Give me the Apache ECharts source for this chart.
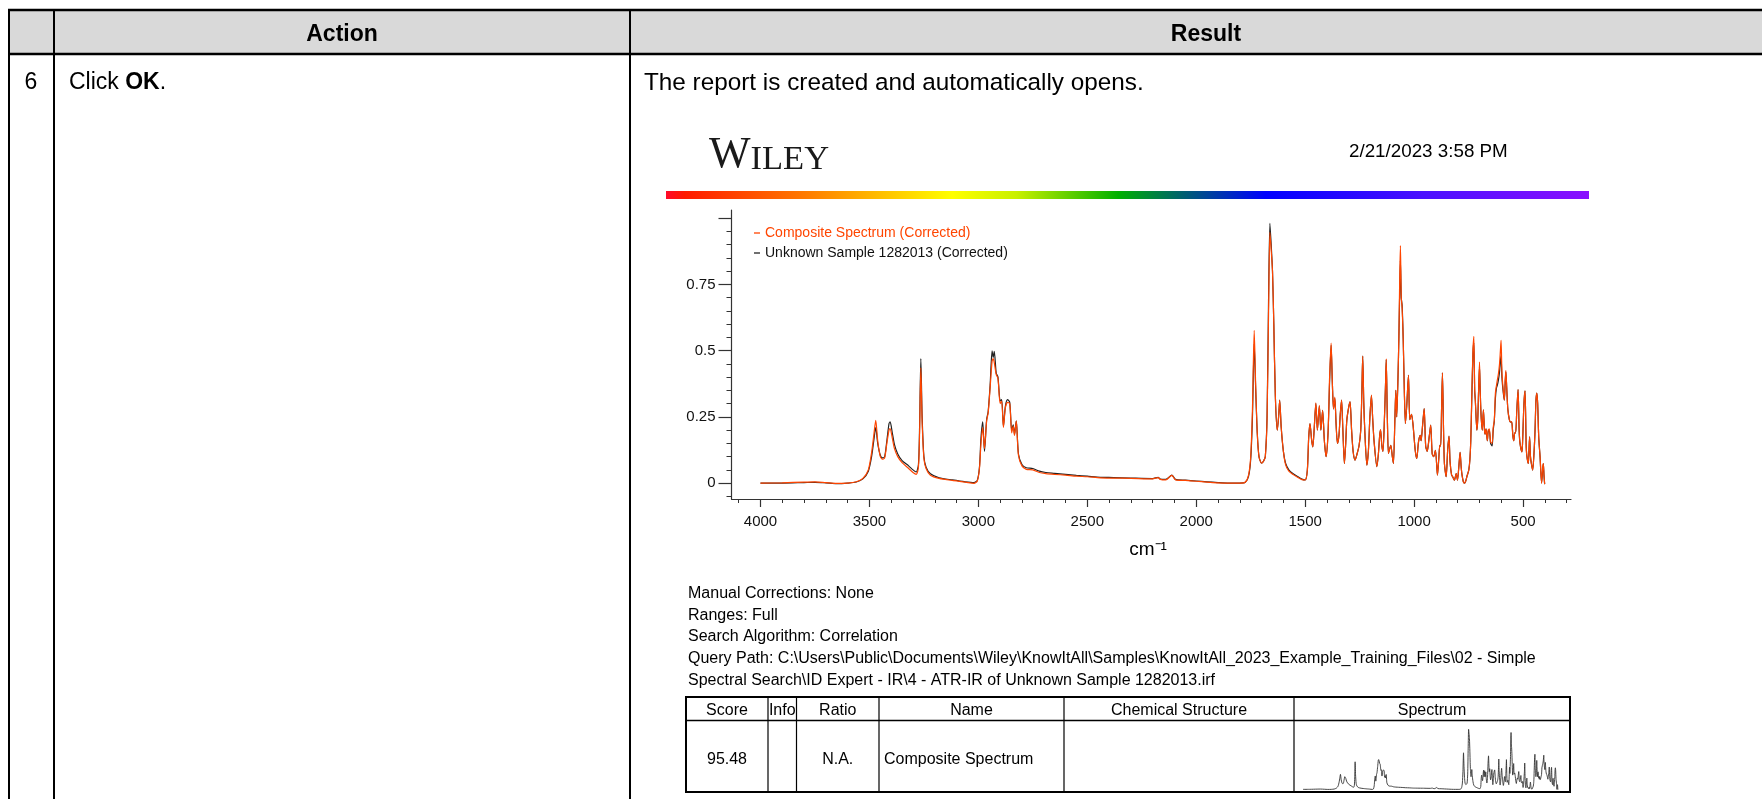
<!DOCTYPE html>
<html>
<head>
<meta charset="utf-8">
<script src="https://cdn.jsdelivr.net/npm/echarts@6/dist/echarts.min.js"></script>
<style>
html,body{margin:0;padding:0;background:#fff;}
#main{width:1762px;height:799px;}
</style>
</head>
<body>
<div id="main"></div>
<script>
// ---------- DATA ----------
const wavenumbers = [4000,3900,3800,3750,3700,3650,3600,3560,3530,3505,3490,3480,3471,3462,3450,3440,3430,3420,3410,3405,3395,3385,3370,3350,3320,3300,3285,3275,3270,3264,3258,3250,3240,3220,3180,3120,3060,3020,3005,2995,2988,2980,2972,2962,2955,2946,2937,2932,2927,2918,2910,2900,2893,2885,2876,2866,2856,2847,2840,2834,2826,2816,2800,2780,2750,2720,2690,2650,2600,2550,2500,2440,2380,2300,2200,2175,2165,2140,2112,2095,2050,2000,1950,1900,1850,1800,1775,1760,1750,1742,1734,1727,1720,1712,1700,1690,1683,1675,1668,1662,1656,1650,1644,1637,1628,1622,1617,1610,1600,1590,1575,1555,1535,1515,1500,1490,1484,1478,1470,1465,1459,1451,1444,1435,1428,1420,1412,1404,1395,1388,1381,1375,1370,1364,1358,1352,1345,1339,1333,1327,1320,1314,1309,1300,1294,1287,1280,1271,1262,1253,1245,1240,1236,1231,1226,1217,1210,1203,1196,1190,1184,1171,1164,1158,1154,1148,1143,1136,1131,1128,1123,1118,1112,1107,1100,1095,1088,1084,1080,1074,1070,1066,1063,1059,1055,1050,1045,1040,1034,1026,1020,1012,1005,995,988,980,972,968,961,954,947,940,936,930,924,917,910,902,893,887,882,878,874,870,865,861,853,846,840,835,828,823,815,807,801,795,789,784,780,774,769,763,758,749,744,740,735,730,726,722,719,712,708,704,700,697,693,687,682,677,674,670,664,660,655,649,642,637,632,627,622,618,613,608,604,601,597,592,586,582,579,575,570,563,557,552,547,543,538,534,529,523,518,514,505,502,496,491,486,483,476,473,470,466,462,456,450,445,441,437,433,428,422,415,410,407,404,401];

const unknownSample = [0,0,0.002,0.003,0.001,-0.002,0,0.004,0.016,0.045,0.10,0.16,0.21,0.15,0.105,0.095,0.10,0.16,0.225,0.231,0.19,0.145,0.11,0.085,0.065,0.05,0.042,0.07,0.2,0.47,0.25,0.10,0.06,0.035,0.02,0.012,0.005,0.002,0.01,0.06,0.17,0.231,0.12,0.24,0.27,0.37,0.499,0.475,0.497,0.415,0.40,0.31,0.315,0.215,0.29,0.315,0.305,0.20,0.22,0.185,0.235,0.11,0.07,0.058,0.055,0.045,0.04,0.037,0.033,0.029,0.026,0.022,0.021,0.019,0.017,0.022,0.015,0.014,0.03,0.014,0.011,0.008,0.005,0.002,0,0,0.003,0.025,0.09,0.25,0.526,0.35,0.19,0.1,0.075,0.085,0.1,0.25,0.7,0.981,0.9,0.8,0.6,0.33,0.2,0.25,0.313,0.21,0.12,0.075,0.05,0.035,0.025,0.015,0.012,0.05,0.17,0.225,0.16,0.137,0.2,0.30,0.2,0.29,0.2,0.275,0.16,0.10,0.19,0.38,0.52,0.37,0.28,0.32,0.22,0.15,0.18,0.26,0.313,0.2,0.074,0.15,0.237,0.288,0.307,0.2,0.12,0.087,0.11,0.14,0.2,0.34,0.479,0.3,0.19,0.068,0.12,0.25,0.33,0.24,0.16,0.062,0.11,0.18,0.2,0.14,0.12,0.25,0.38,0.465,0.25,0.112,0.13,0.143,0.1,0.074,0.25,0.35,0.25,0.4,0.55,0.73,0.84,0.7,0.67,0.54,0.35,0.225,0.29,0.407,0.24,0.26,0.22,0.124,0.093,0.155,0.18,0.16,0.22,0.281,0.14,0.12,0.137,0.18,0.219,0.11,0.1,0.124,0.03,0.09,0.143,0.14,0.28,0.416,0.2,0.074,0.024,0.125,0.177,0.08,0.03,0.024,0.011,0.036,0.011,0.06,0.116,0.06,0.03,0.005,0,0.008,0.024,0.05,0.09,0.16,0.33,0.49,0.53,0.35,0.31,0.2,0.24,0.35,0.44,0.36,0.26,0.2,0.277,0.2,0.185,0.205,0.16,0.195,0.2,0.15,0.14,0.2,0.235,0.32,0.36,0.37,0.39,0.42,0.46,0.48,0.4,0.35,0.313,0.38,0.42,0.36,0.28,0.24,0.23,0.23,0.18,0.16,0.19,0.19,0.27,0.353,0.2,0.15,0.118,0.16,0.3,0.348,0.15,0.105,0.074,0.12,0.175,0.1,0.074,0.049,0.11,0.2,0.31,0.34,0.3,0.17,0.1,0,0.05,0.074,0.03,-0.004];

const compositeSpectrum = [0,0.001,0.004,0.005,0.002,-0.001,0,0.005,0.018,0.05,0.115,0.18,0.237,0.16,0.10,0.09,0.095,0.15,0.20,0.206,0.17,0.13,0.10,0.077,0.055,0.04,0.033,0.06,0.18,0.435,0.23,0.095,0.055,0.03,0.018,0.01,0.004,-0.001,0.008,0.055,0.15,0.21,0.13,0.235,0.265,0.36,0.46,0.47,0.455,0.41,0.395,0.30,0.31,0.21,0.285,0.305,0.30,0.19,0.215,0.18,0.235,0.105,0.065,0.052,0.05,0.04,0.036,0.033,0.03,0.026,0.024,0.02,0.019,0.018,0.016,0.021,0.014,0.012,0.029,0.012,0.01,0.007,0.004,0.001,0,0,0.003,0.03,0.1,0.28,0.577,0.36,0.19,0.1,0.075,0.085,0.1,0.24,0.65,0.947,0.88,0.8,0.6,0.33,0.2,0.25,0.313,0.21,0.12,0.07,0.045,0.032,0.022,0.013,0.012,0.05,0.17,0.225,0.16,0.137,0.2,0.303,0.2,0.294,0.2,0.275,0.16,0.1,0.19,0.40,0.529,0.37,0.28,0.325,0.22,0.15,0.18,0.26,0.313,0.2,0.074,0.15,0.237,0.288,0.307,0.2,0.12,0.087,0.11,0.14,0.2,0.34,0.479,0.3,0.19,0.068,0.12,0.25,0.332,0.24,0.16,0.062,0.11,0.18,0.202,0.14,0.12,0.25,0.38,0.469,0.25,0.112,0.13,0.143,0.1,0.074,0.25,0.35,0.25,0.4,0.552,0.78,0.897,0.7,0.66,0.539,0.35,0.225,0.29,0.407,0.24,0.26,0.22,0.124,0.093,0.155,0.18,0.16,0.22,0.281,0.14,0.12,0.137,0.18,0.219,0.11,0.1,0.124,0.03,0.09,0.143,0.14,0.28,0.416,0.2,0.074,0.024,0.125,0.177,0.08,0.03,0.024,0.011,0.036,0.011,0.06,0.116,0.06,0.03,0.005,0,0.008,0.024,0.05,0.09,0.16,0.34,0.5,0.554,0.35,0.31,0.2,0.24,0.35,0.457,0.36,0.26,0.2,0.277,0.2,0.185,0.205,0.16,0.2,0.205,0.155,0.15,0.21,0.237,0.34,0.369,0.39,0.413,0.45,0.5,0.539,0.42,0.36,0.313,0.39,0.426,0.36,0.28,0.24,0.23,0.232,0.18,0.16,0.19,0.19,0.27,0.353,0.2,0.15,0.118,0.16,0.3,0.348,0.15,0.105,0.074,0.12,0.175,0.1,0.074,0.049,0.11,0.2,0.31,0.34,0.3,0.17,0.1,0,0.06,0.074,0.03,-0.004];

const seriesNames = ['Composite Spectrum (Corrected)', 'Unknown Sample 1282013 (Corrected)'];
const xTickLabels = [4000,3500,3000,2500,2000,1500,1000,500];
const yTickLabels = [0,0.25,0.5,0.75];
const yMajorTicks = [0,0.25,0.5,0.75,1];

const reportDate = '2/21/2023 3:58 PM';
const infoLines = [
  'Manual Corrections: None',
  'Ranges: Full',
  'Search Algorithm: Correlation',
  'Query Path: C:\\Users\\Public\\Documents\\Wiley\\KnowItAll\\Samples\\KnowItAll_2023_Example_Training_Files\\02 - Simple',
  'Spectral Search\\ID Expert - IR\\4 - ATR-IR of Unknown Sample 1282013.irf'
];
const hitHeaders = ['Score','Info','Ratio','Name','Chemical Structure','Spectrum'];
const hitRow = ['95.48','','N.A.','Composite Spectrum'];

// ---------- BUILD ----------
const xMinorTicks = [];
for (let v = 300; v <= 4100; v += 100) xMinorTicks.push(v);
const yMinorTicks = [];
for (let i = -1; i <= 20; i++) yMinorTicks.push(+(i * 0.05).toFixed(2));

const pairs = vals => wavenumbers.map((w, i) => [w, vals[i]]);

const FONT = '"Liberation Sans", Arial, sans-serif';
const AX = '#333';

function txt(x, y, text, size, opts) {
  opts = opts || {};
  return {
    type: 'text', x: x, y: y, silent: true,
    style: {
      text: text,
      font: (opts.bold ? 'bold ' : '') + size + 'px ' + (opts.family || FONT),
      fill: opts.color || '#000',
      align: opts.align || 'left', textAlign: opts.align || 'left',
      verticalAlign: 'middle', textVerticalAlign: 'middle'
    }
  };
}
function ln(x1, y1, x2, y2, w) {
  return { type: 'line', silent: true, shape: {x1, y1, x2, y2}, style: {stroke: '#000', lineWidth: w || 2} };
}

const graphics = [];
// outer document table
graphics.push({type: 'rect', silent: true, shape: {x: 8, y: 10, width: 1754, height: 44}, style: {fill: '#d9d9d9'}});
graphics.push(ln(8, 10, 1762, 10, 2.5));
graphics.push(ln(8, 54, 1762, 54, 2.5));
graphics.push(ln(9, 9, 9, 799, 2));
graphics.push(ln(54, 9, 54, 799, 2));
graphics.push(ln(630, 9, 630, 799, 2));
graphics.push(txt(342, 34.5, 'Action', 23, {bold: true, align: 'center'}));
graphics.push(txt(1206, 34.5, 'Result', 23, {bold: true, align: 'center'}));
graphics.push(txt(31, 83, '6', 23, {align: 'center'}));
graphics.push({
  type: 'text', x: 69, y: 83, silent: true,
  style: {
    text: '{r|Click }{b|OK}{r|.}',
    verticalAlign: 'middle', textVerticalAlign: 'middle',
    rich: {
      r: {fontSize: 23, fontFamily: FONT, fill: '#000', color: '#000'},
      b: {fontSize: 23, fontFamily: FONT, fontWeight: 'bold', fill: '#000', color: '#000'}
    }
  }
});
graphics.push(txt(644, 83, 'The report is created and automatically opens.', 24.3));

// report header
graphics.push({
  type: 'text', x: 709, y: 177, silent: true,
  style: {
    text: '{a|W}{b|ILEY}',
    verticalAlign: 'bottom', textVerticalAlign: 'bottom',
    rich: {
      a: {fontSize: 44, fontFamily: '"Liberation Serif", serif', fill: '#1a1a1a', color: '#1a1a1a', verticalAlign: 'bottom'},
      b: {fontSize: 34.5, fontFamily: '"Liberation Serif", serif', fill: '#1a1a1a', color: '#1a1a1a', verticalAlign: 'bottom'}
    }
  }
});
graphics.push(txt(1349, 152, reportDate, 18.8));
graphics.push({
  type: 'rect', silent: true, shape: {x: 666, y: 191, width: 923, height: 8},
  style: {fill: {type: 'linear', x: 0, y: 0, x2: 1, y2: 0, colorStops: [
    {offset: 0, color: '#ff0a2a'}, {offset: 0.02, color: '#ff1a00'}, {offset: 0.15, color: '#ff7a00'},
    {offset: 0.31, color: '#ffff00'}, {offset: 0.38, color: '#c8f000'}, {offset: 0.49, color: '#00b000'},
    {offset: 0.56, color: '#006070'}, {offset: 0.65, color: '#0000ff'}, {offset: 0.82, color: '#4a10ff'},
    {offset: 1, color: '#8a10ff'}]}}
});

// cm-1 axis title
graphics.push(txt(1148, 550, 'cm\u207B\u00B9', 19, {align: 'center'}));

// info text block
const lineYs = [594, 615.5, 637, 658.5, 680.5];
infoLines.forEach((t, i) => graphics.push(txt(688, lineYs[i], t, 16)));

// hit table
const colX = [686, 768, 796.5, 879, 1064, 1294, 1570];
graphics.push(ln(686, 697, 1570, 697, 2));
graphics.push(ln(686, 720.5, 1570, 720.5, 1.5));
graphics.push(ln(686, 792, 1570, 792, 2));
colX.forEach((x, i) => graphics.push(ln(x, 696, x, 793, (i === 0 || i === colX.length - 1) ? 2 : 1.2)));
hitHeaders.forEach((h, i) => graphics.push(txt((colX[i] + colX[i + 1]) / 2, 711, h, 16, {align: 'center'})));
graphics.push(txt((colX[0] + colX[1]) / 2, 759.5, hitRow[0], 16, {align: 'center'}));
graphics.push(txt((colX[2] + colX[3]) / 2, 759.5, hitRow[2], 16, {align: 'center'}));
graphics.push(txt(colX[3] + 5, 759.5, hitRow[3], 16));

const fmt = v => String(v);

const chart = echarts.init(document.getElementById('main'), null, {renderer: 'canvas'});
chart.setOption({
  animation: false,
  backgroundColor: '#fff',
  textStyle: {fontFamily: FONT},
  graphic: graphics,
  legend: {
    left: 749, top: 220, orient: 'vertical', itemGap: 4,
    icon: 'rect', itemWidth: 6, itemHeight: 1.3,
    textStyle: {fontSize: 14, lineHeight: 16, fontFamily: FONT},
    data: [
      {name: seriesNames[0], textStyle: {color: '#ff4500'}},
      {name: seriesNames[1], textStyle: {color: '#111'}}
    ]
  },
  grid: [
    {left: 731.5, top: 210, width: 839.5, height: 289},
    {left: 1303, top: 726, width: 255, height: 64}
  ],
  xAxis: [
    {type: 'value', gridIndex: 0, position: 'bottom', min: 280, max: 4133, inverse: true,
     axisLine: {show: true, onZero: false, lineStyle: {color: AX, width: 1.2}},
     axisTick: {show: true, length: 8, customValues: xTickLabels, lineStyle: {color: AX, width: 1.2}},
     axisLabel: {show: true, customValues: xTickLabels, formatter: fmt, fontSize: 15, color: '#111', margin: 15, fontFamily: FONT},
     splitLine: {show: false}},
    {type: 'value', gridIndex: 0, position: 'bottom', min: 280, max: 4133, inverse: true,
     axisLine: {show: false, onZero: false},
     axisTick: {show: true, length: 4, customValues: xMinorTicks, lineStyle: {color: AX, width: 1}},
     axisLabel: {show: false}, splitLine: {show: false}},
    {type: 'value', gridIndex: 1, min: 400, max: 4000, inverse: true, show: false}
  ],
  yAxis: [
    {type: 'value', gridIndex: 0, position: 'left', min: -0.06, max: 1.031,
     axisLine: {show: true, onZero: false, lineStyle: {color: AX, width: 1.2}},
     axisTick: {show: true, length: 13, customValues: yMajorTicks, lineStyle: {color: AX, width: 1.2}},
     axisLabel: {show: true, customValues: yTickLabels, formatter: fmt, fontSize: 15, color: '#111', margin: 16, fontFamily: FONT},
     splitLine: {show: false}},
    {type: 'value', gridIndex: 0, position: 'left', min: -0.06, max: 1.031,
     axisLine: {show: false, onZero: false},
     axisTick: {show: true, length: 5, customValues: yMinorTicks, lineStyle: {color: AX, width: 1}},
     axisLabel: {show: false}, splitLine: {show: false}},
    {type: 'value', gridIndex: 1, min: -0.01, max: 1.0, show: false}
  ],
  series: [
    {name: seriesNames[1], type: 'line', xAxisIndex: 0, yAxisIndex: 0, data: pairs(unknownSample),
     showSymbol: false, symbol: 'none', smooth: 0.25, color: '#222', lineStyle: {color: '#222', width: 1.2}, z: 2},
    {name: seriesNames[0], type: 'line', xAxisIndex: 0, yAxisIndex: 0, data: pairs(compositeSpectrum),
     showSymbol: false, symbol: 'none', smooth: 0.25, color: '#ff4500', lineStyle: {color: '#ff4500', width: 1.2}, z: 3},
    {name: 'mini', type: 'line', xAxisIndex: 2, yAxisIndex: 2, data: pairs(compositeSpectrum),
     showSymbol: false, symbol: 'none', smooth: 0.2, lineStyle: {color: '#333', width: 0.9}, z: 2}
  ]
});
</script>
</body>
</html>
